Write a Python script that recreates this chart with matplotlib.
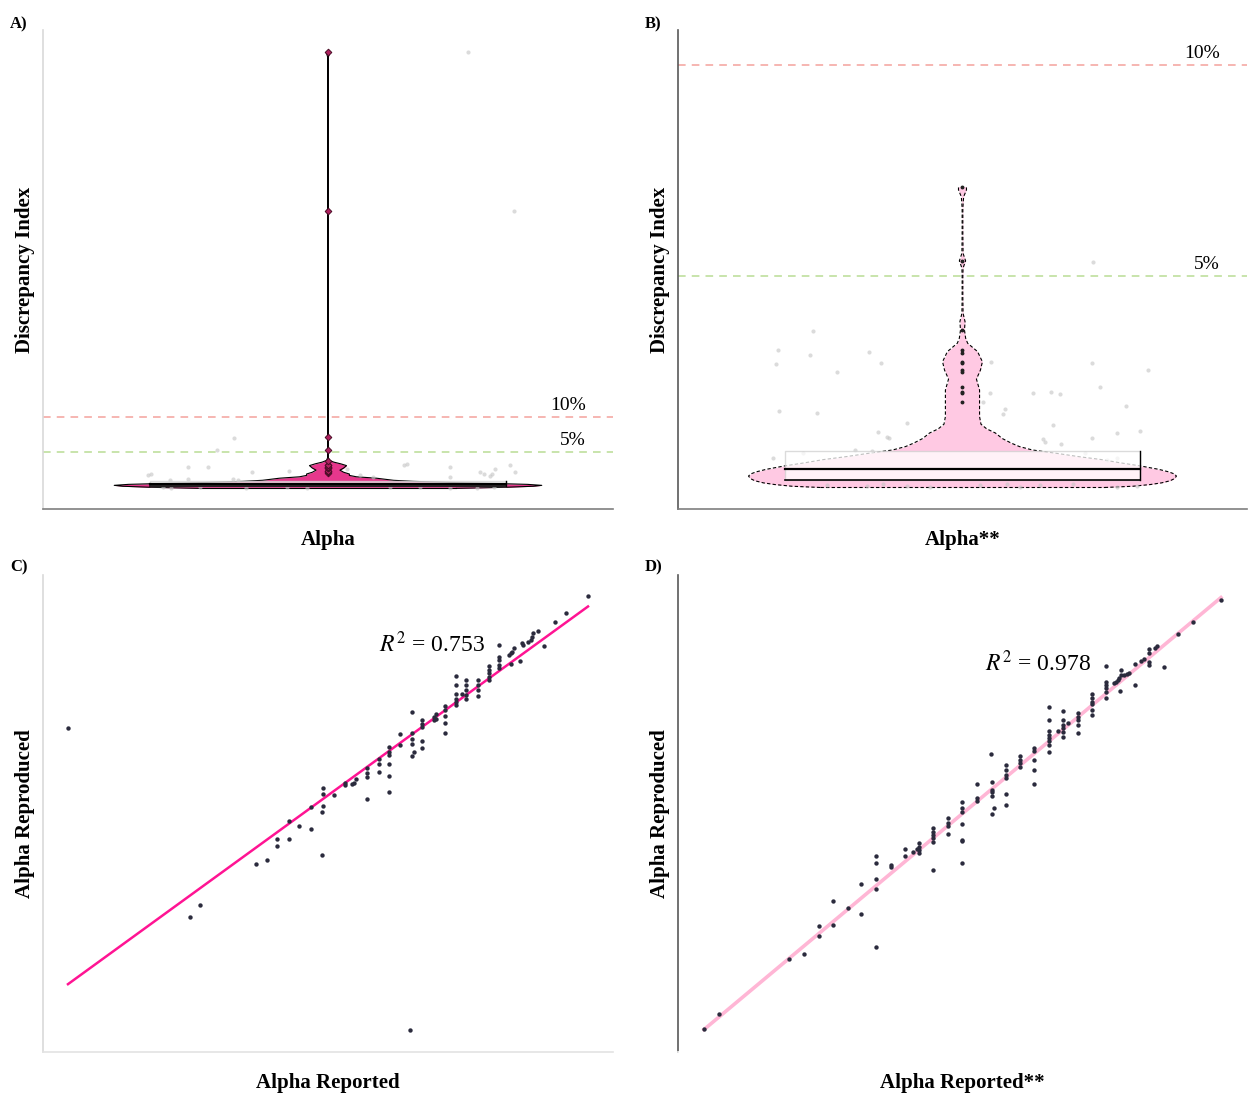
import matplotlib
matplotlib.use('Agg')
import matplotlib.pyplot as plt
from matplotlib.patches import Rectangle
import numpy as np

plt.rcParams['font.family'] = ['Liberation Serif', 'DejaVu Serif']
plt.rcParams['mathtext.fontset'] = 'stix'

# ---------------- panel A / B : discrepancy index (violin + box + jitter)
thresholds = [10, 5]
threshold_labels = ['10%', '5%']
threshold_colors = ['#f4a29c', '#b9dc94']

# violin outline: level -> half width (axis units)
a_violin_y = [-0.15, 0.0, 0.15, 0.28, 0.42, 0.55, 0.7, 0.85, 1.0, 1.15, 1.3, 1.5, 1.7, 1.9,
              2.15, 2.45, 2.75, 3.1, 3.35, 3.6, 3.85, 4.2, 39.0, 39.4, 39.8, 61.5, 62.1]
a_violin_w = [0.45, 0.62, 0.72, 0.75, 0.70, 0.58, 0.42, 0.30, 0.23, 0.20, 0.17, 0.10, 0.075, 0.075,
              0.055, 0.042, 0.055, 0.065, 0.045, 0.02, 0.005, 0.0015, 0.0015, 0.003, 0.0015, 0.0015, 0.006]

b_violin_y = [-0.01, 0.02, 0.06, 0.10, 0.15, 0.20, 0.26, 0.31, 0.36, 0.42, 0.50, 0.58, 0.65, 0.72,
              0.80, 0.88, 0.96, 1.04, 1.15, 1.28, 1.38, 1.49, 1.67, 1.99, 2.30, 2.56, 2.77, 2.97,
              3.21, 3.41, 3.53, 3.72, 3.92, 4.12, 4.5, 5.0, 5.19, 5.36, 5.54, 6.0, 6.6, 6.88, 7.04, 7.12]
b_violin_w = [0.50, 0.60, 0.66, 0.70, 0.73, 0.745, 0.752, 0.745, 0.725, 0.69, 0.626, 0.55, 0.49, 0.41,
              0.33, 0.245, 0.20, 0.172, 0.14, 0.116, 0.085, 0.065, 0.060, 0.060, 0.060, 0.049, 0.063, 0.070,
              0.053, 0.018, 0.011, 0.007, 0.009, 0.002, 0.0012, 0.0012, 0.002, 0.011, 0.002, 0.0012, 0.0012,
              0.004, 0.014, 0.014]

# box statistics
box_q1, box_median, box_q3 = 0.166, 0.427, 0.853
whisker_low, whisker_high = 0.0, 1.87
box_half = 0.625

outliers_a = [2.02, 2.22, 2.26, 2.38, 2.73, 2.77, 2.93, 2.97, 3.18, 3.25, 3.72, 5.36, 7.12, 39.4, 62.1]
outliers_b = [2.02, 2.22, 2.26, 2.38, 2.73, 2.77, 2.93, 2.97, 3.18, 3.25, 3.72, 5.36, 7.12]

# jittered raw values (x = horizontal jitter, y = discrepancy)
a_jit_x = [-0.329, -0.391, -0.491, -0.421, -0.265, -0.136, -0.620, -0.632, -0.491, -0.333, -0.315, -0.555,
           0.277, 0.267, 0.429, 0.429, 0.534, 0.546, 0.575, 0.587, 0.569, 0.640, 0.657, 0.112, 0.159, 0.066,
           0.492, 0.654, -0.579, -0.550, -0.450, -0.286, -0.145, -0.075, 0.218, 0.323, 0.429, 0.522, 0.581]
a_jit_y = [7.04, 5.29, 2.90, 2.90, 2.19, 2.33, 1.95, 1.71, 1.24, 1.24, 1.10, 1.10,
           3.38, 3.14, 2.90, 1.48, 2.19, 1.86, 1.95, 2.67, 1.57, 3.14, 2.19, 1.71, 1.48, 2.67,
           62.1, 39.4, 0.05, -0.1, 0.0, -0.05, 0.05, -0.1, 0.0, 0.05, -0.05, -0.1, 0.02]

b_jit_x = [0.458, -0.524, -0.650, -0.536, -0.329, -0.656, -0.440, -0.288, 0.100, 0.454, 0.653, 0.483,
           0.247, 0.310, 0.343, 0.097, 0.574, -0.645, -0.512, 0.149, 0.141, 0.073, 0.317, -0.196, -0.298,
           -0.266, -0.258, 0.544, 0.624, 0.455, 0.284, 0.290, 0.346, -0.665, -0.560, -0.378, -0.319, 0.507,
           0.542, 0.431, -0.477, -0.337, -0.278, -0.196, -0.114, 0.062, 0.155, 0.202, 0.272, 0.389, 0.542, 0.612]
b_jit_y = [5.34, 3.70, 3.25, 3.14, 3.21, 2.91, 2.73, 2.95, 2.96, 2.95, 2.77, 2.36,
           2.24, 2.26, 2.20, 2.24, 1.92, 1.81, 1.76, 1.85, 1.73, 2.02, 1.47, 1.51, 1.30,
           1.18, 1.17, 1.27, 1.33, 1.17, 1.13, 1.07, 1.01, 0.68, 0.80, 0.88, 0.86, 0.64,
           0.68, 0.80, 0.05, 0.02, 0.08, 0.03, 0.0, 0.05, 0.08, 0.01, 0.04, 0.07, 0.0, 0.03]

# ---------------- panel C / D : reported vs reproduced alpha
c_reported = [0.449, 0.566, 0.576, 0.629, 0.640, 0.650, 0.650, 0.661, 0.661, 0.671, 0.682, 0.682, 0.693, 0.693, 0.777,
              0.948, 0.927, 0.916, 0.906, 0.900, 0.895, 0.894, 0.893, 0.890, 0.886, 0.885, 0.883, 0.877, 0.875,
              0.874, 0.872, 0.874, 0.863, 0.863, 0.863, 0.863, 0.863, 0.853, 0.853, 0.853, 0.853, 0.853, 0.842,
              0.842, 0.842, 0.842, 0.831, 0.831, 0.831, 0.831, 0.831, 0.827, 0.821, 0.821, 0.821, 0.821, 0.821,
              0.821, 0.811, 0.811, 0.811, 0.811, 0.811, 0.802, 0.800, 0.800, 0.802, 0.789, 0.789, 0.789, 0.789,
              0.789, 0.779, 0.779, 0.779, 0.779, 0.781, 0.779, 0.768, 0.768, 0.757, 0.757, 0.757, 0.757, 0.757,
              0.757, 0.747, 0.747, 0.747, 0.736, 0.736, 0.736, 0.736, 0.725, 0.723, 0.722, 0.715, 0.715, 0.704,
              0.694, 0.694, 0.694]
c_reproduced = [0.833, 0.635, 0.647, 0.690, 0.695, 0.717, 0.709, 0.736, 0.717, 0.730, 0.750, 0.727, 0.745, 0.700, 0.516,
                0.972, 0.954, 0.945, 0.919, 0.935, 0.933, 0.929, 0.926, 0.924, 0.921, 0.923, 0.904, 0.917, 0.913,
                0.912, 0.910, 0.901, 0.921, 0.908, 0.905, 0.899, 0.896, 0.898, 0.894, 0.891, 0.887, 0.884, 0.884,
                0.878, 0.873, 0.867, 0.884, 0.878, 0.873, 0.868, 0.864, 0.869, 0.888, 0.878, 0.869, 0.864, 0.861,
                0.857, 0.856, 0.852, 0.846, 0.839, 0.828, 0.848, 0.845, 0.842, 0.843, 0.842, 0.838, 0.834, 0.820,
                0.812, 0.850, 0.828, 0.822, 0.817, 0.808, 0.804, 0.827, 0.815, 0.813, 0.808, 0.805, 0.796, 0.783,
                0.766, 0.801, 0.796, 0.787, 0.791, 0.786, 0.782, 0.759, 0.780, 0.776, 0.775, 0.776, 0.773, 0.763,
                0.770, 0.764, 0.751]
c_fit = (0.2073, 0.795)   # intercept, slope
c_r2 = 0.753

d_reported = [0.947, 0.920, 0.906, 0.892, 0.886, 0.884, 0.878, 0.878, 0.878, 0.878, 0.873, 0.870, 0.865, 0.865,
              0.859, 0.857, 0.854, 0.851, 0.851, 0.849, 0.848, 0.846, 0.844, 0.850, 0.837, 0.837, 0.837, 0.837,
              0.837, 0.837, 0.823, 0.823, 0.823, 0.823, 0.823, 0.823, 0.810, 0.810, 0.810, 0.810, 0.810, 0.800,
              0.795, 0.795, 0.795, 0.795, 0.795, 0.795, 0.791, 0.782, 0.782, 0.782, 0.782, 0.782, 0.782, 0.782,
              0.782, 0.768, 0.768, 0.768, 0.768, 0.768, 0.754, 0.754, 0.754, 0.754, 0.741, 0.741, 0.741, 0.741,
              0.741, 0.726, 0.741,
              0.713, 0.713, 0.713, 0.727, 0.727, 0.727, 0.727, 0.729, 0.727, 0.699, 0.699, 0.699, 0.699, 0.699,
              0.699, 0.699, 0.685, 0.685, 0.685, 0.685, 0.671, 0.671, 0.671, 0.671, 0.671, 0.671, 0.657, 0.657,
              0.657, 0.657, 0.655, 0.652, 0.644, 0.644, 0.630, 0.630, 0.616, 0.616, 0.616, 0.616, 0.616, 0.602,
              0.602, 0.589, 0.575, 0.575, 0.561, 0.561, 0.547, 0.533, 0.465, 0.451]
d_reproduced = [0.956, 0.932, 0.920, 0.885, 0.907, 0.905, 0.904, 0.899, 0.890, 0.887, 0.893, 0.891, 0.888, 0.866,
                0.878, 0.877, 0.876, 0.881, 0.876, 0.873, 0.871, 0.869, 0.868, 0.859, 0.886, 0.869, 0.866, 0.862,
                0.858, 0.852, 0.856, 0.852, 0.848, 0.845, 0.839, 0.834, 0.836, 0.832, 0.829, 0.823, 0.815, 0.825,
                0.838, 0.828, 0.823, 0.820, 0.816, 0.811, 0.817, 0.842, 0.829, 0.817, 0.813, 0.809, 0.806, 0.802,
                0.795, 0.799, 0.796, 0.786, 0.776, 0.761, 0.790, 0.786, 0.783, 0.779, 0.781, 0.776, 0.770, 0.767,
                0.750, 0.792, 0.739,
                0.761, 0.746, 0.743, 0.763, 0.754, 0.752, 0.748, 0.735, 0.729, 0.742, 0.735, 0.731, 0.718, 0.701,
                0.700, 0.677, 0.725, 0.719, 0.716, 0.708, 0.714, 0.710, 0.707, 0.704, 0.699, 0.670, 0.698, 0.694,
                0.691, 0.688, 0.692, 0.689, 0.692, 0.685, 0.675, 0.673, 0.684, 0.677, 0.660, 0.650, 0.588, 0.655,
                0.623, 0.629, 0.637, 0.612, 0.610, 0.600, 0.581, 0.575, 0.517, 0.501]
d_fit = (0.085, 0.922)
d_r2 = 0.978


fig = plt.figure(figsize=(12.49, 10.93), dpi=100)
axA = fig.add_axes([0.0344, 0.5343, 0.4564, 0.4382])
axB = fig.add_axes([0.5428, 0.5343, 0.4556, 0.4382])
axC = fig.add_axes([0.0344, 0.0375, 0.4564, 0.4364])
axD = fig.add_axes([0.5428, 0.0375, 0.4556, 0.4364])


def clean_axes(ax, left_color, bottom_color):
    ax.set_xticks([])
    ax.set_yticks([])
    for s in ['top', 'right']:
        ax.spines[s].set_visible(False)
    ax.spines['left'].set_color(left_color)
    ax.spines['bottom'].set_color(bottom_color)
    ax.spines['left'].set_linewidth(1.2)
    ax.spines['bottom'].set_linewidth(1.2)


def violin_panel(ax, vy, vw, fill, outline_ls, outliers, out_style, jit_x, jit_y, ylim):
    vy = np.array(vy)
    vw = np.array(vw)
    ax.plot([0, 0], [whisker_low, whisker_high], color='#9a9a9a', lw=1.0, zorder=1)
    ax.fill_betweenx(vy, -vw, vw, color=fill, lw=0, zorder=2)
    ax.plot(-vw, vy, color='black', lw=0.8, ls=outline_ls, zorder=2.5)
    ax.plot(vw, vy, color='black', lw=0.8, ls=outline_ls, zorder=2.5)
    ax.plot([-vw[0], vw[0]], [vy[0], vy[0]], color='black', lw=0.8, ls=outline_ls, zorder=2.5)
    ax.scatter(jit_x, jit_y, s=9, color='#c4c4c4', alpha=0.6, lw=0, zorder=3)
    # box
    ax.add_patch(Rectangle((-box_half, box_q1), 2 * box_half, box_q3 - box_q1,
                           facecolor='white', alpha=0.75, edgecolor='#cfcfcf', lw=1.0, zorder=4))
    ax.plot([-box_half, box_half], [box_q1, box_q1], color='black', lw=1.2, zorder=4.5)
    ax.plot([box_half, box_half], [box_q1, box_q3], color='black', lw=1.0, zorder=4.5)
    ax.plot([-box_half, box_half], [box_median, box_median], color='black', lw=1.6, zorder=4.5)
    ax.plot(np.zeros(len(outliers)), outliers, linestyle='none', zorder=5, **out_style)
    # thresholds
    for thr, lab, col in zip(thresholds, threshold_labels, threshold_colors):
        ax.axhline(thr, color=col, lw=1.1, ls=(0, (5, 4)), zorder=1)
        ax.text(0.952, thr + (ylim[1] - ylim[0]) * 0.006, lab, transform=ax.get_yaxis_transform(),
                ha='right', va='bottom', fontsize=14)
    ax.set_xlim(-1, 1)
    ax.set_ylim(*ylim)


violin_panel(axA, a_violin_y, a_violin_w, '#e6378c', '-', outliers_a,
             dict(marker='D', ms=3.4, mfc='#b0205f', mec='#4a0d26', mew=0.7),
             a_jit_x, a_jit_y, (-3.1, 65.3))
violin_panel(axB, b_violin_y, b_violin_w, '#ffc9e3', (0, (3, 2)), outliers_b,
             dict(marker='o', ms=1.8, color='#222222'),
             b_jit_x, b_jit_y, (-0.52, 10.83))

clean_axes(axA, '#d9d9d9', '#7f7f7f')
clean_axes(axB, '#595959', '#7f7f7f')
axA.set_ylabel('Discrepancy Index', fontsize=15, fontweight='bold', labelpad=6)
axB.set_ylabel('Discrepancy Index', fontsize=15, fontweight='bold', labelpad=6)
axA.set_xlabel('Alpha', fontsize=15, fontweight='bold', labelpad=15)
axB.set_xlabel('Alpha**', fontsize=15, fontweight='bold', labelpad=15)


def scatter_panel(ax, x, y, fit, r2, line_color, line_w, txt_pos, xlim, ylim):
    x = np.array(x)
    y = np.array(y)
    xs = np.array([x.min(), x.max()])
    ax.plot(xs, fit[0] + fit[1] * xs, color=line_color, lw=line_w, zorder=2)
    ax.scatter(x, y, s=10, color='#2b2b3d', lw=0, zorder=3)
    ax.text(txt_pos[0], txt_pos[1], r'$R^2$ = %.3f' % r2, fontsize=17, ha='left', va='baseline')
    ax.set_xlim(*xlim)
    ax.set_ylim(*ylim)


scatter_panel(axC, c_reported, c_reproduced, c_fit, c_r2, '#ff1493', 1.8, (0.747, 0.913),
              (0.425, 0.972), (0.493, 0.994))
scatter_panel(axD, d_reported, d_reproduced, d_fit, d_r2, '#ffb6d5', 2.6, (0.721, 0.880),
              (0.426, 0.972), (0.477, 0.982))

clean_axes(axC, '#d9d9d9', '#e3e3e3')
clean_axes(axD, '#595959', '#ffffff')
axC.set_ylabel('Alpha Reproduced', fontsize=15, fontweight='bold', labelpad=6)
axD.set_ylabel('Alpha Reproduced', fontsize=15, fontweight='bold', labelpad=6)
axC.set_xlabel('Alpha Reported', fontsize=15, fontweight='bold', labelpad=15)
axD.set_xlabel('Alpha Reported**', fontsize=15, fontweight='bold', labelpad=15)

for lab, xf, yf in [('A)', 0.008, 0.978), ('B)', 0.516, 0.978), ('C)', 0.008, 0.481), ('D)', 0.516, 0.481)]:
    fig.text(xf, yf, lab, fontsize=12, fontweight='bold', va='center', ha='left')

fig.savefig('out.png', dpi=100)
